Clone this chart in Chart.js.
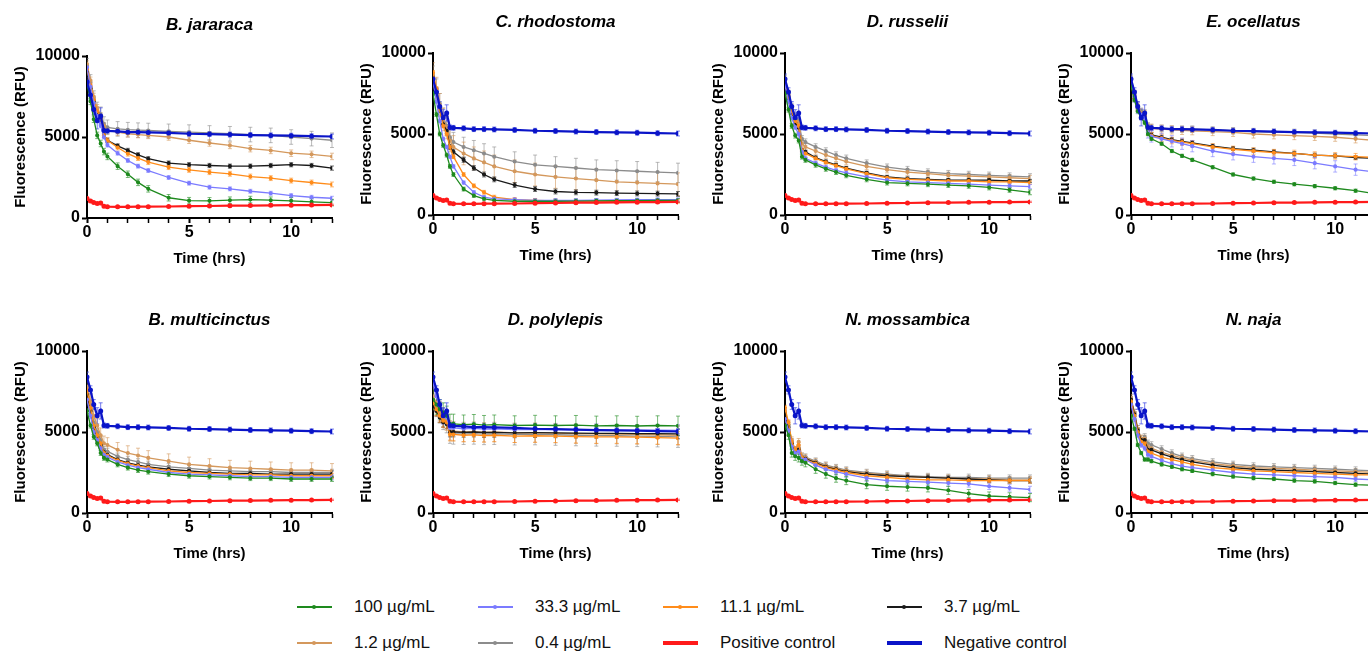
<!DOCTYPE html>
<html>
<head>
<meta charset="UTF-8">
<title>Fluorescence over time</title>
<style>
  html, body { margin: 0; padding: 0; background: #fff; width: 1368px; height: 651px; overflow: hidden; }
  .panel { position: absolute; width: 342px; height: 270px; }
  .legend-item { position: absolute; display: flex; align-items: center; height: 20px;
    font-family: "Liberation Sans", Arial, sans-serif; font-size: 17px; color: #111; white-space: nowrap; }
  .swatch { position: relative; width: 35px; margin-right: 22px; }
  .swatch .dot { position: absolute; left: 15px; width: 4px; height: 4px; border-radius: 2px; }
</style>
</head>
<body>
<div id="panels"></div>
<div id="legend"></div>

<script src="https://cdn.jsdelivr.net/npm/chart.js@4"></script>
<script>
// ---------------- data ----------------
const hours = [0, 0.17, 0.33, 0.5, 0.67, 0.83, 1, 1.5, 2, 2.5, 3, 4, 5, 6, 7, 8, 9, 10, 11, 12];

const seriesLabels = ['100 µg/mL', '33.3 µg/mL', '11.1 µg/mL', '3.7 µg/mL', '1.2 µg/mL', '0.4 µg/mL'];
const seriesColors = ['#1e8a1e', '#7b7bff', '#ff8c1a', '#1a1a1a', '#d4985c', '#8c8c8c'];

const posControl = [1200, 1050, 960, 900, 920, 730, 700, 690, 690, 700, 700, 710, 730, 740, 760, 770, 780, 790, 800, 810];
const posErr     = [80, 70, 60, 60, 80, 50, 40, 40, 40, 40, 40, 40, 40, 40, 40, 40, 40, 40, 40, 40];
const negControl = [8400, 7600, 6700, 6000, 6300, 5400, 5380, 5350, 5300, 5300, 5280, 5250, 5200, 5180, 5150, 5120, 5100, 5080, 5050, 5030];
const negErr     = [300, 250, 300, 500, 500, 150, 150, 150, 150, 150, 150, 150, 150, 150, 150, 150, 150, 150, 150, 150];

const speciesNames = ['B. jararaca', 'C. rhodostoma', 'D. russelii', 'E. ocellatus',
                      'B. multicinctus', 'D. polylepis', 'N. mossambica', 'N. naja'];

const jararaca = [
  [8300, 7200, 6100, 5100, 4600, 4100, 3800, 3200, 2700, 2200, 1800, 1250, 1070, 1060, 1100, 1140, 1100, 1060, 1000, 950],
  [9300, 8100, 7100, 6300, 5700, 5000, 4500, 4000, 3550, 3200, 2930, 2500, 2150, 1900, 1800, 1650, 1530, 1380, 1280, 1220],
  [9200, 8200, 7300, 6600, 6200, 5100, 4800, 4350, 3970, 3700, 3450, 3140, 2970, 2830, 2730, 2560, 2460, 2310, 2190, 2070],
  [9000, 8000, 7200, 6500, 6200, 5100, 4800, 4450, 4170, 3900, 3660, 3390, 3290, 3240, 3200, 3200, 3240, 3290, 3240, 3080],
  [9500, 8500, 7500, 6800, 6300, 5700, 5400, 5300, 5200, 5150, 5100, 5000, 4800, 4630, 4480, 4280, 4170, 4000, 3930, 3800],
  [9400, 8400, 7400, 6700, 6400, 5800, 5600, 5500, 5450, 5420, 5400, 5350, 5300, 5250, 5200, 5150, 5100, 5000, 4900, 4800]
];
const jararacaSD = [200, 120, 150, 130, 200, 450];

const rhodostoma = [
  [7500, 6200, 5000, 4300, 3700, 3000, 2500, 1600, 1200, 1000, 900, 850, 850, 850, 860, 870, 880, 890, 900, 900],
  [8200, 7000, 5800, 4700, 4200, 3600, 3000, 2000, 1400, 1100, 1000, 950, 900, 900, 900, 920, 930, 940, 950, 950],
  [8800, 7800, 6500, 5500, 5000, 4200, 3600, 2500, 1800, 1400, 1100, 950, 900, 870, 860, 860, 850, 850, 850, 850],
  [8500, 7600, 6500, 5600, 5200, 4200, 3900, 3400, 2900, 2500, 2200, 1850, 1600, 1450, 1400, 1380, 1350, 1330, 1320, 1300],
  [8700, 7800, 6800, 5900, 5400, 4600, 4200, 3800, 3500, 3250, 3000, 2700, 2500, 2350, 2250, 2150, 2050, 2000, 1950, 1900],
  [8600, 7800, 6900, 6000, 5500, 4800, 4500, 4200, 4000, 3800, 3600, 3300, 3100, 3000, 2900, 2800, 2750, 2700, 2650, 2600]
];
const rhodostomaSD = [120, 100, 120, 150, 700, 600];

const russelii = [
  [7500, 6500, 5500, 4900, 4600, 3600, 3400, 3100, 2850, 2650, 2450, 2200, 2000, 1950, 1900, 1850, 1800, 1700, 1550, 1400],
  [8000, 7000, 6000, 5400, 5000, 3900, 3500, 3200, 2950, 2750, 2600, 2350, 2150, 2050, 2000, 1950, 1900, 1850, 1800, 1750],
  [8200, 7300, 6400, 5800, 5500, 4000, 3800, 3500, 3250, 3050, 2850, 2550, 2300, 2200, 2150, 2100, 2100, 2050, 2050, 2000],
  [8100, 7200, 6300, 5700, 5400, 4000, 3900, 3550, 3300, 3100, 2900, 2600, 2350, 2250, 2200, 2150, 2150, 2150, 2100, 2100],
  [8300, 7400, 6600, 6000, 5700, 4400, 4200, 3950, 3700, 3500, 3300, 3000, 2800, 2650, 2550, 2450, 2400, 2350, 2300, 2250],
  [8400, 7500, 6700, 6100, 5800, 4700, 4500, 4200, 3950, 3700, 3500, 3200, 2950, 2800, 2650, 2550, 2500, 2450, 2400, 2350]
];
const russeliiSD = [150, 130, 100, 100, 200, 200];

const ocellatus = [
  [8000, 7100, 6400, 6000, 5700, 5000, 4700, 4400, 3950, 3650, 3400, 2950, 2500, 2250, 2050, 1900, 1780, 1650, 1500, 1300],
  [8200, 7300, 6600, 6200, 6000, 5100, 4850, 4700, 4550, 4400, 4250, 3950, 3750, 3600, 3500, 3400, 3200, 3000, 2800, 2650],
  [8100, 7200, 6600, 6200, 6100, 5100, 4900, 4750, 4600, 4500, 4400, 4200, 4050, 3950, 3850, 3800, 3700, 3650, 3600, 3550],
  [8100, 7200, 6600, 6200, 6100, 5100, 4950, 4800, 4650, 4550, 4450, 4250, 4100, 4000, 3900, 3800, 3700, 3650, 3550, 3500],
  [8300, 7400, 6700, 6300, 6200, 5400, 5350, 5300, 5250, 5220, 5200, 5150, 5100, 5000, 4950, 4900, 4850, 4800, 4700, 4600],
  [8400, 7500, 6800, 6400, 6300, 5500, 5400, 5350, 5300, 5300, 5300, 5250, 5200, 5150, 5100, 5100, 5050, 5000, 4950, 4900]
];
const ocellatusSD = [100, 350, 200, 120, 250, 200];

const multicinctus = [
  [6300, 5400, 4700, 4300, 3700, 3400, 3300, 3000, 2800, 2650, 2550, 2400, 2300, 2250, 2200, 2150, 2150, 2100, 2100, 2100],
  [7000, 6000, 5000, 4500, 4000, 3600, 3450, 3150, 2950, 2800, 2700, 2500, 2400, 2350, 2300, 2250, 2250, 2200, 2200, 2200],
  [7600, 6500, 5400, 4800, 4300, 3700, 3550, 3250, 3050, 2900, 2800, 2600, 2500, 2450, 2400, 2350, 2350, 2300, 2300, 2300],
  [7300, 6300, 5300, 4700, 4200, 3750, 3600, 3300, 3100, 2950, 2850, 2700, 2600, 2500, 2450, 2450, 2400, 2400, 2400, 2400],
  [7800, 6900, 6000, 5400, 4800, 4300, 4200, 3900, 3700, 3550, 3400, 3200, 3000, 2900, 2800, 2750, 2700, 2650, 2650, 2600],
  [7500, 6600, 5600, 5000, 4500, 3900, 3800, 3500, 3300, 3150, 3000, 2850, 2750, 2650, 2600, 2550, 2550, 2500, 2500, 2500]
];
const multicinctusSD = [150, 150, 150, 200, 450, 200];

const polylepis = [
  [7000, 6700, 6400, 6200, 6000, 5500, 5500, 5450, 5480, 5420, 5450, 5400, 5430, 5400, 5420, 5380, 5400, 5370, 5400, 5380],
  [8000, 7200, 6500, 6100, 5900, 5250, 5250, 5200, 5220, 5180, 5200, 5150, 5170, 5150, 5130, 5150, 5120, 5100, 5120, 5100],
  [6800, 6400, 6000, 5700, 5600, 4850, 4850, 4800, 4820, 4780, 4800, 4750, 4770, 4750, 4720, 4700, 4700, 4680, 4650, 4620],
  [6600, 6300, 5900, 5600, 5500, 5000, 5000, 4980, 5000, 4970, 4980, 4950, 4960, 4950, 4930, 4920, 4920, 4900, 4900, 4880],
  [7200, 6800, 6300, 5900, 5700, 5100, 5050, 5000, 5020, 4980, 5000, 4950, 4960, 4930, 4900, 4880, 4870, 4850, 4830, 4800],
  [7000, 6600, 6200, 5800, 5600, 4950, 4900, 4880, 4900, 4870, 4880, 4850, 4860, 4830, 4800, 4780, 4770, 4750, 4730, 4700]
];
const polylepisSD = [600, 350, 400, 300, 600, 650];

const mossambica = [
  [5400, 4800, 3700, 3500, 3400, 3200, 3100, 2700, 2400, 2150, 2000, 1750, 1650, 1600, 1550, 1400, 1200, 1050, 1000, 950],
  [5800, 5100, 4100, 3700, 3800, 3300, 3300, 2950, 2700, 2550, 2400, 2150, 2000, 1950, 1900, 1850, 1800, 1650, 1550, 1450],
  [6500, 5600, 4400, 3900, 4200, 3400, 3300, 3050, 2800, 2650, 2500, 2300, 2200, 2100, 2050, 2050, 2000, 2000, 2000, 2000],
  [6100, 5300, 4300, 3800, 3900, 3400, 3350, 3100, 2850, 2700, 2550, 2400, 2300, 2250, 2200, 2150, 2100, 2050, 2000, 2000],
  [6300, 5500, 4500, 3900, 4400, 3500, 3400, 3150, 2900, 2750, 2600, 2450, 2350, 2250, 2200, 2150, 2100, 2100, 2050, 2050],
  [6200, 5400, 4400, 3900, 4000, 3500, 3450, 3200, 2950, 2800, 2650, 2500, 2400, 2300, 2250, 2200, 2200, 2150, 2150, 2150]
];
const mossambicaSD = [250, 200, 150, 150, 200, 200];

const naja = [
  [6000, 5200, 4200, 3700, 3300, 3300, 3200, 3000, 2850, 2700, 2600, 2400, 2250, 2150, 2100, 2000, 1950, 1850, 1750, 1700],
  [6700, 5800, 4800, 4200, 4000, 3600, 3500, 3250, 3050, 2900, 2800, 2650, 2500, 2400, 2350, 2300, 2250, 2200, 2100, 2050],
  [6900, 6000, 5000, 4400, 4300, 3800, 3700, 3450, 3300, 3150, 3000, 2800, 2700, 2600, 2550, 2500, 2450, 2400, 2350, 2350],
  [7000, 6100, 5100, 4500, 4500, 3900, 3900, 3650, 3450, 3300, 3150, 2950, 2800, 2700, 2650, 2600, 2550, 2500, 2450, 2400],
  [7100, 6200, 5200, 4600, 4600, 4100, 4000, 3750, 3550, 3400, 3250, 3050, 2900, 2800, 2750, 2700, 2650, 2600, 2550, 2500],
  [7000, 6200, 5200, 4600, 4700, 4300, 4200, 3950, 3700, 3500, 3350, 3150, 3000, 2900, 2850, 2800, 2750, 2700, 2650, 2600]
];
const najaSD = [100, 150, 150, 150, 200, 200];

const xTicks = [0, 5, 10];
const yTicks = [0, 5000, 10000];

// ---------------- layout ----------------
const panelData = [jararaca, rhodostoma, russelii, ocellatus, multicinctus, polylepis, mossambica, naja];
const panelSD = [jararacaSD, rhodostomaSD, russeliiSD, ocellatusSD, multicinctusSD, polylepisSD, mossambicaSD, najaSD];
const panelLeft = [0, 346, 698, 1044];
const panelTop = [[3, 0, 0, 0], [298, 298, 298, 298]];

const FONT = '"Liberation Sans", Arial, sans-serif';
Chart.defaults.font.family = FONT;
Chart.defaults.color = '#000';

function points(vals) {
  return vals.map((v, i) => ({ x: hours[i], y: v }));
}

// vertical error bars, drawn under the lines
const errorBars = {
  id: 'errorBars',
  beforeDatasetsDraw(chart) {
    const ctx = chart.ctx, ys = chart.scales.y, a = chart.chartArea;
    ctx.save();
    ctx.beginPath();
    ctx.rect(a.left, a.top - 2, a.right - a.left + 4, a.bottom - a.top + 2);
    ctx.clip();
    ctx.lineWidth = 1;
    for (let i = chart.data.datasets.length - 1; i >= 0; i--) {
      const ds = chart.data.datasets[i];
      const meta = chart.getDatasetMeta(i);
      ctx.strokeStyle = ds.errColor;
      meta.data.forEach((pt, j) => {
        const e = Array.isArray(ds.sd) ? ds.sd[j] : ds.sd;
        const v = ds.data[j].y;
        const t = ys.getPixelForValue(v + e), b = ys.getPixelForValue(Math.max(v - e, 0));
        ctx.beginPath();
        ctx.moveTo(pt.x, t); ctx.lineTo(pt.x, b);
        ctx.moveTo(pt.x - 2, t); ctx.lineTo(pt.x + 2, t);
        ctx.moveTo(pt.x - 2, b); ctx.lineTo(pt.x + 2, b);
        ctx.stroke();
      });
    }
    ctx.restore();
  }
};

function makePanel(k) {
  const row = Math.floor(k / 4), col = k % 4;
  const div = document.createElement('div');
  div.className = 'panel';
  div.style.left = panelLeft[col] + 'px';
  div.style.top = panelTop[row][col] + 'px';
  const cv = document.createElement('canvas');
  div.appendChild(cv);
  document.getElementById('panels').appendChild(div);

  const datasets = [
    { label: 'Negative control', data: points(negControl), sd: negErr, borderColor: '#0a14c8',
      backgroundColor: '#0a14c8', errColor: 'rgba(70,80,230,0.75)', borderWidth: 2.2 },
    { label: 'Positive control', data: points(posControl), sd: posErr, borderColor: '#ff1a1a',
      backgroundColor: '#ff1a1a', errColor: 'rgba(255,60,60,0.7)', borderWidth: 2.2 }
  ];
  panelData[k].forEach((vals, s) => {
    datasets.push({
      label: seriesLabels[s], data: points(vals), sd: panelSD[k][s],
      borderColor: seriesColors[s], backgroundColor: seriesColors[s],
      errColor: seriesColors[s] + '99', borderWidth: 1.3
    });
  });

  new Chart(cv, {
    type: 'line',
    data: { datasets },
    plugins: [errorBars],
    options: {
      responsive: true,
      maintainAspectRatio: false,
      animation: false,
      layout: { padding: { left: 0, right: 10, top: 0, bottom: 0 } },
      elements: {
        line: { tension: 0 },
        point: { radius: 1.4, borderWidth: 0, hoverRadius: 1.4 }
      },
      plugins: {
        legend: { display: false },
        tooltip: { enabled: false },
        title: {
          display: true, text: speciesNames[k], fullSize: false,
          font: { size: 17, weight: 'bold', style: 'italic' },
          padding: { top: 12, bottom: 20.6 }
        }
      },
      scales: {
        x: {
          type: 'linear', min: 0, max: 12,
          afterFit: s => { s.height = 55; },
          border: { display: true, color: '#000', width: 2 },
          grid: { drawOnChartArea: false, drawTicks: true, tickLength: 5, tickColor: '#000',
                  tickWidth: c => (xTicks.includes(c.tick.value) ? 2 : 1.5) },
          ticks: { stepSize: 1, autoSkip: false, maxRotation: 0, padding: 0,
                   font: { size: 16, weight: 'bold' },
                   callback: v => (xTicks.includes(v) ? String(v) : '') },
          title: { display: true, text: 'Time (hrs)', font: { size: 15, weight: 'bold' },
                   padding: { top: 0, bottom: 5 } }
        },
        y: {
          min: 0, max: 10000,
          afterFit: s => { s.width = 87; },
          border: { display: true, color: '#000', width: 2 },
          grid: { drawOnChartArea: false, drawTicks: true, tickLength: 5, tickColor: '#000', tickWidth: 2 },
          afterBuildTicks: s => { s.ticks = yTicks.map(v => ({ value: v })); },
          ticks: { padding: 2, font: { size: 16, weight: 'bold' }, callback: v => String(v) },
          title: { display: true, text: 'Fluorescence (RFU)', font: { size: 15, weight: 'bold' },
                   padding: { top: 12, bottom: 0 } }
        }
      }
    }
  });
}

for (let k = 0; k < 8; k++) makePanel(k);

// ---------------- legend ----------------
const legendItems = seriesLabels.map((l, i) => ({ label: l, color: seriesColors[i], thick: false }))
  .concat([{ label: 'Positive control', color: '#ff1a1a', thick: true },
           { label: 'Negative control', color: '#0a14c8', thick: true }]);
const legendCols = [297, 478, 663, 887];
const legendRows = [607, 643];

legendItems.forEach((it, i) => {
  const item = document.createElement('div');
  item.className = 'legend-item';
  item.style.left = legendCols[i % 4] + 'px';
  item.style.top = (legendRows[Math.floor(i / 4)] - 10) + 'px';
  const sw = document.createElement('span');
  sw.className = 'swatch';
  sw.style.height = it.thick ? '4px' : '2px';
  sw.style.background = it.color;
  if (!it.thick) {
    const dot = document.createElement('span');
    dot.className = 'dot';
    dot.style.top = '-1px';
    dot.style.background = it.color;
    sw.appendChild(dot);
  }
  const tx = document.createElement('span');
  tx.textContent = it.label;
  item.appendChild(sw);
  item.appendChild(tx);
  document.getElementById('legend').appendChild(item);
});
</script>
</body>
</html>
